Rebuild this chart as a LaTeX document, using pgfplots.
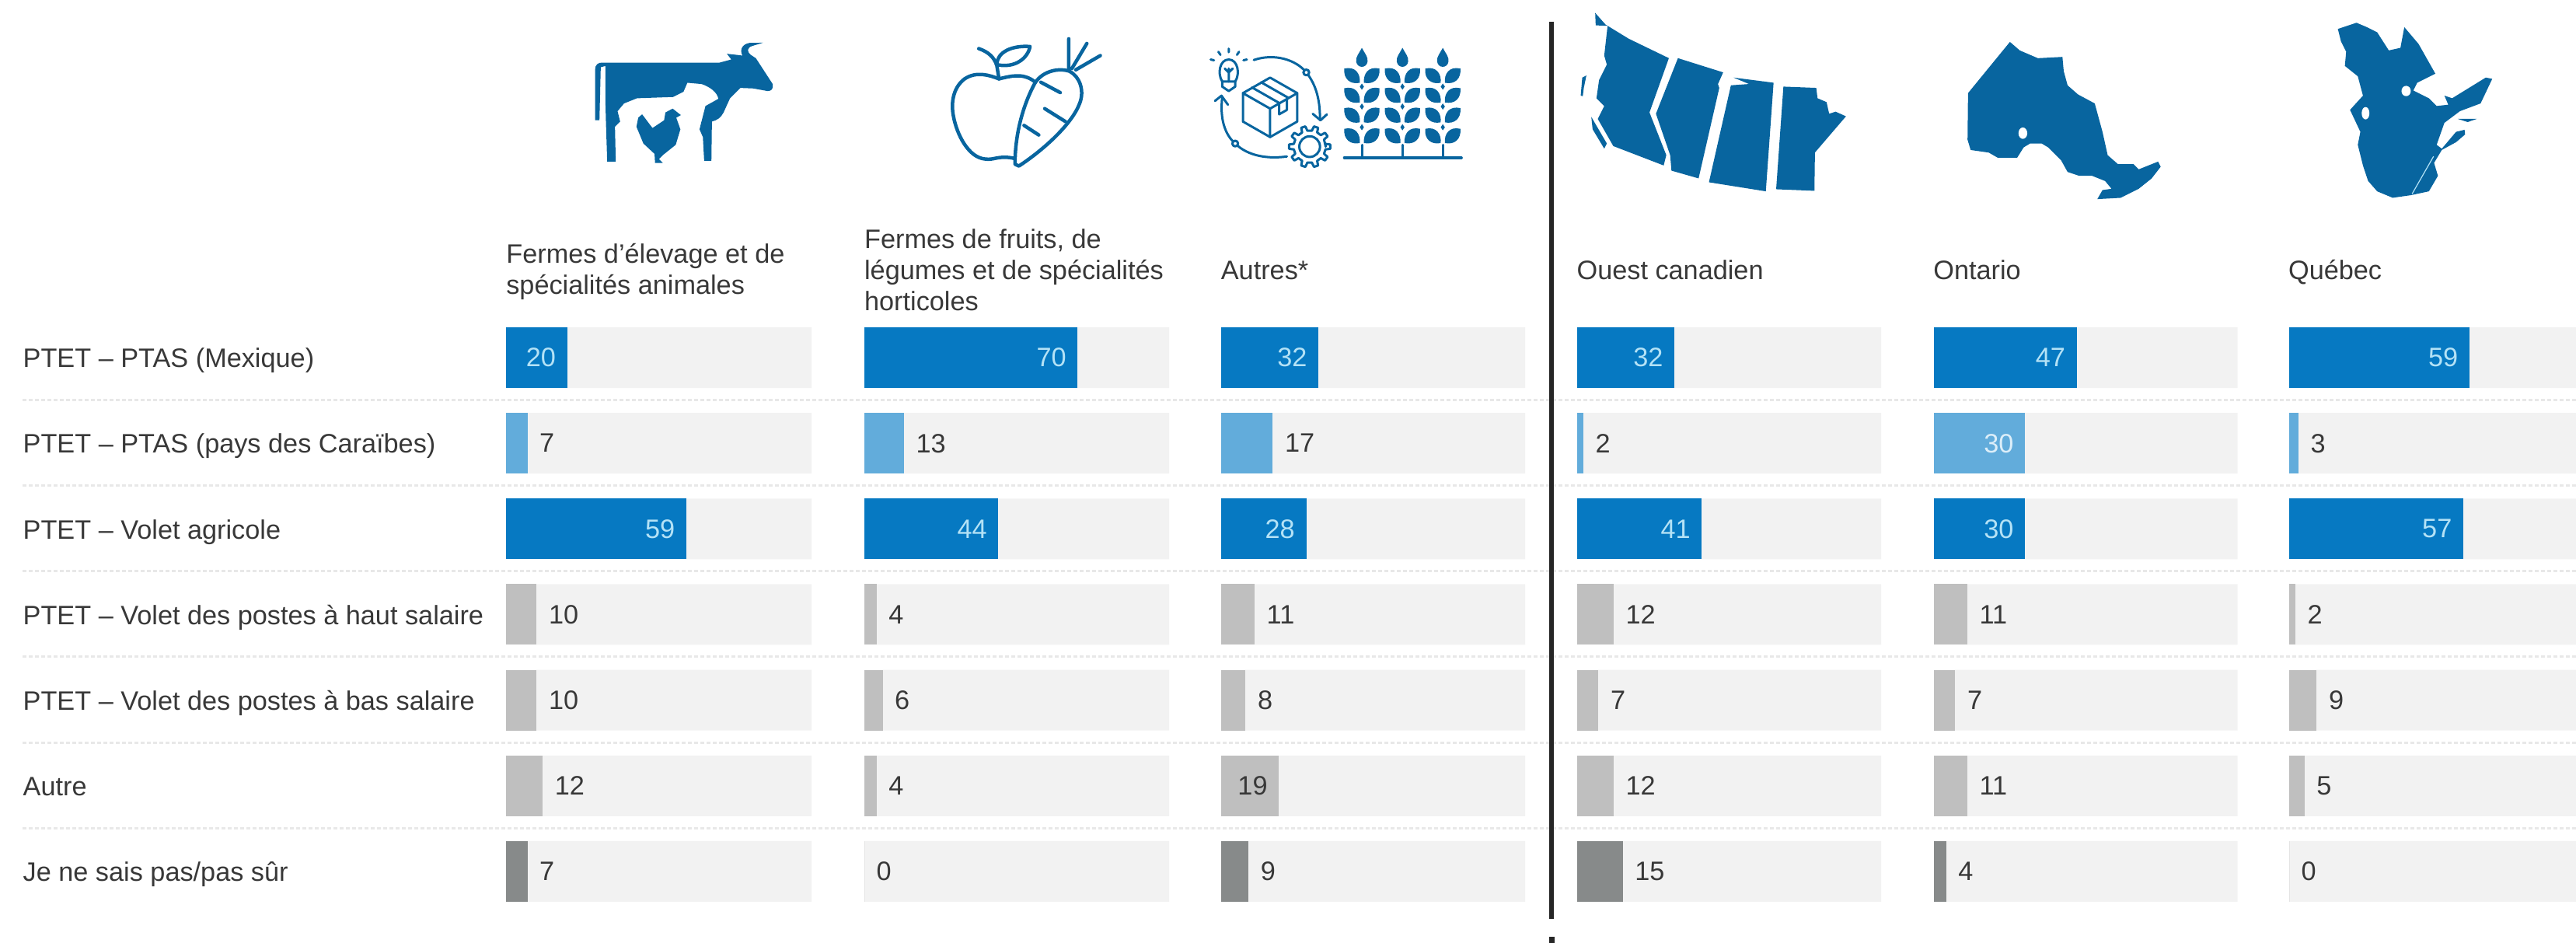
\documentclass[border=0pt]{standalone}
\usepackage{pgfplots}
\pgfplotsset{compat=1.18}
\usepackage{fontspec}
\setmainfont{Liberation Sans}

\definecolor{bardark}{HTML}{0679C2}
\definecolor{barlight}{HTML}{62ACDB}
\definecolor{bargrey}{HTML}{BFBFBF}
\definecolor{barslate}{HTML}{878A8A}
\definecolor{track}{HTML}{F2F2F2}
\definecolor{ink}{HTML}{383838}
\definecolor{icon}{HTML}{08659F}
\definecolor{paleblue}{HTML}{B4E2F6}
\definecolor{palewhite}{HTML}{DCEEF9}
\definecolor{rule}{HTML}{E8E8E8}

\newcommand{\labelfont}{\fontsize{9.75}{11}\selectfont}

% a line of text, positioned in 0.1 mm units from the top left corner
\newcommand{\txt}[3]{\node[anchor=base west,inner sep=0pt,font=\labelfont,text=ink] at ({#1*0.01},{12.13-#2*0.01}) {#3};}

% one bar with its value, set inside the bar from 19 upwards
\newcommand{\onebar}[4]{%
  \ifnum#2>18
    \addplot[fill=#3,draw=none,forget plot,nodes near coords,
      every node near coord/.style={inner sep=0pt,anchor=east,xshift=-0.14cm,font=\labelfont,text=#4}]
      coordinates {(#2,#1)};
  \else
    \addplot[fill=#3,draw=none,forget plot,nodes near coords,
      every node near coord/.style={inner sep=0pt,anchor=west,xshift=0.15cm,font=\labelfont,text=ink}]
      coordinates {(#2,#1)};
  \fi}

\def\panelrows#1,#2,#3,#4,#5,#6,#7\relax{%
  \onebar{0}{#1}{bardark}{paleblue}%
  \onebar{1}{#2}{barlight}{palewhite}%
  \onebar{2}{#3}{bardark}{paleblue}%
  \onebar{3}{#4}{bargrey}{ink}%
  \onebar{4}{#5}{bargrey}{ink}%
  \onebar{5}{#6}{bargrey}{ink}%
  \onebar{6}{#7}{barslate}{ink}}

% left edge, width of the drawn axis, last value shown, seven values
\newcommand{\panel}[4]{%
  \begin{axis}[
    at={(#1cm,8.08cm)},anchor=north west,scale only axis,
    width=#2cm,height=7.71cm,hide axis,
    xmin=0,xmax=#3,ymin=-0.5,ymax=6.5,y dir=reverse,
    xbar=0pt,/pgf/bar shift=0pt,bar width=0.78cm,
    point meta=x,/pgf/number format/assume math mode=true]
    \addplot[fill=track,draw=none,forget plot]
      coordinates {(100,0) (100,1) (100,2) (100,3) (100,4) (100,5) (100,6)};
    \panelrows#4\relax
  \end{axis}}

\begin{document}
\begin{tikzpicture}[
  zoomed/.style 2 args={shift={({#1*0.01},{12.13-#2*0.01})},x=0.0033333cm,y=-0.0033333cm}]
\path[use as bounding box] (0,0) rectangle (33.14,12.13);

% dotted separators between the rows
\foreach \y in {515,625,735,845,956,1066}
  \draw[rule,line width=0.025cm,dash pattern=on 0.05cm off 0.03cm] (0.29,{12.13-\y*0.01}) -- (33.14,{12.13-\y*0.01});

% bars by farm type, then by region
\panel{6.51}{3.93}{100}{20,7,59,10,10,12,7}
\panel{11.12}{3.92}{100}{70,13,44,4,6,4,0}
\panel{15.71}{3.91}{100}{32,17,28,11,8,19,9}
\panel{20.29}{3.91}{100}{32,2,41,12,7,12,15}
\panel{24.88}{3.905}{100}{47,30,30,11,7,11,4}
\panel{29.45}{3.69}{93.9}{59,3,57,2,9,5,0}

% row names
\txt{29}{473}{PTET – PTAS (Mexique)}
\txt{29}{583}{PTET – PTAS (pays des Caraïbes)}
\txt{29}{694}{PTET – Volet agricole}
\txt{29}{804}{PTET – Volet des postes à haut salaire}
\txt{29}{914}{PTET – Volet des postes à bas salaire}
\txt{29}{1024}{Autre}
\txt{29}{1134}{Je ne sais pas/pas sûr}

% column names
\txt{651}{339}{Fermes d’élevage et de}
\txt{651}{379}{spécialités animales}
\txt{1112}{320}{Fermes de fruits, de}
\txt{1112}{360}{légumes et de spécialités}
\txt{1112}{400}{horticoles}
\txt{1571}{360}{Autres*}
\txt{2029}{360}{Ouest canadien}
\txt{2488}{360}{Ontario}
\txt{2945}{360}{Québec}

% divider between the two groups of columns
\draw[black!85,line width=0.055cm] (19.96,{12.13-0.28}) -- (19.96,{12.13-11.82});
\draw[black!85,line width=0.07cm] (19.96,{12.13-12.05}) -- (19.96,0);

% cow and hen
\begin{scope}[zoomed={740}{30}]
\fill[icon] (78,375) -- (78,180) .. controls (78,160) and (90,152) .. (105,152) -- (560,152) -- (605,140)
  -- (588,118) -- (625,122) -- (648,125) .. controls (635,100) and (650,80) .. (675,76) -- (728,75)
  -- (685,88) .. controls (665,95) and (665,110) .. (680,122) -- (700,135) -- (765,235)
  .. controls (768,255) and (760,262) .. (745,262) -- (690,252) -- (640,250) -- (600,290)
  -- (575,345) .. controls (565,365) and (550,375) .. (530,380) -- (528,532) -- (500,532) -- (495,440)
  -- (482,410) -- (505,320) -- (555,292) .. controls (550,265) and (520,245) .. (490,235) -- (435,230)
  -- (420,265) -- (380,285) -- (240,290) -- (190,310) -- (165,340) -- (175,380) -- (155,400)
  -- (158,535) -- (125,535) -- (120,380) -- (118,300) -- (118,165) -- (100,170) -- (95,375) -- cycle;
\fill[icon] (260,352) -- (300,405) -- (345,375) -- (350,345) -- (378,330) -- (410,355) -- (392,365)
  -- (408,410) -- (390,470) -- (340,510) -- (325,525) -- (340,540) -- (310,540) -- (308,505)
  -- (265,465) -- (238,400) -- (245,365) -- cycle;
\end{scope}

% apple and carrot
\begin{scope}[zoomed={1200}{30},draw=icon,line width=0.045cm,line cap=round,line join=round]
\draw (395,225) .. controls (350,190) and (300,205) .. (258,215) .. controls (220,200) and (170,185) .. (125,215)
  .. controls (85,245) and (70,300) .. (82,360) .. controls (95,430) and (140,520) .. (205,525)
  .. controls (240,530) and (255,510) .. (315,522);
\draw (258,215) -- (250,165) .. controls (240,130) and (215,110) .. (180,98);
\draw (250,160) .. controls (250,110) and (310,85) .. (378,90) .. controls (370,135) and (320,175) .. (250,160) -- cycle;
\draw (320,545) .. controls (320,430) and (350,320) .. (395,235) .. controls (420,190) and (480,170) .. (530,185)
  .. controls (570,205) and (590,260) .. (570,310) .. controls (540,390) and (430,490) .. (335,552) -- cycle;
\draw (420,228) -- (495,268) (435,330) -- (515,380) (355,395) -- (412,432);
\draw (528,180) -- (528,60) (540,175) -- (598,78) (555,180) -- (650,125);
\end{scope}

% supply loop and wheat
\begin{scope}[zoomed={1540}{40},draw=icon,line width=0.03cm,line cap=round,line join=round]
\draw (180,240) -- (285,180) -- (390,240) -- (390,350) -- (285,410) -- (180,350) -- cycle;
\draw (180,240) -- (285,300) -- (390,240) (285,300) -- (285,410);
\draw (215,218) -- (320,278) (250,198) -- (355,258) (320,278) -- (320,322) -- (350,305) -- (350,262);
\draw (222,112) .. controls (300,85) and (385,110) .. (425,160) .. controls (465,210) and (478,270) .. (478,340);
\draw (450,320) -- (480,345) -- (505,322);
\draw (100,255) .. controls (90,340) and (110,400) .. (150,435) .. controls (200,485) and (280,495) .. (350,485);
\draw (72,270) -- (97,250) -- (122,285);
\filldraw[fill=white] (425,160) circle (11) (150,435) circle (11);
\draw (100,195) .. controls (80,165) and (90,110) .. (125,110) .. controls (160,110) and (170,165) .. (150,195) -- cycle;
\draw (100,195) -- (100,215) -- (125,232) -- (150,215) -- (150,195) (125,195) -- (125,145) (110,145) -- (125,160) -- (140,145);
\draw (125,68) -- (125,82) (85,80) -- (93,92) (165,80) -- (157,92) (55,110) -- (68,113) (195,110) -- (182,113);
\begin{scope}[shift={(438,447)}]
\draw (0:62) \foreach \a in {0,36,...,324} {-- (\a-10:62) -- (\a-6:80) -- (\a+6:80) -- (\a+10:62)} -- cycle;
\draw (0,0) circle (40);
\end{scope}
\foreach \cx in {640,797,953} {
  \begin{scope}[shift={(\cx,0)}]
  \fill[icon] (0,65) .. controls (10,85) and (25,100) .. (22,118) .. controls (18,145) and (-18,145) .. (-22,118) .. controls (-25,100) and (-10,85) .. (0,65) -- cycle;
  \foreach \yy in {0,76,153,233} {
    \fill[icon] (-68,{145+\yy}) .. controls (-25,{135+\yy}) and (-5,{165+\yy}) .. (-8,{200+\yy}) .. controls (-45,{208+\yy}) and (-72,{185+\yy}) .. cycle;
    \fill[icon] (68,{145+\yy}) .. controls (25,{135+\yy}) and (5,{165+\yy}) .. (8,{200+\yy}) .. controls (45,{208+\yy}) and (72,{185+\yy}) .. cycle;
  }
  \fill[icon] (0,203) -- (8,215) -- (0,227) -- (-8,215) -- cycle;
  \fill[icon] (0,280) -- (8,292) -- (0,304) -- (-8,292) -- cycle;
  \fill[icon] (0,360) -- (8,372) -- (0,384) -- (-8,372) -- cycle;
  \draw (0,440) -- (0,490);
  \end{scope}
}
\draw[line width=0.035cm] (572,490) -- (1025,490);
\end{scope}

% western provinces
\begin{scope}[zoomed={2030}{0}]
\fill[icon] (70,50) -- (110,95) -- (200,150) -- (355,225) -- (280,435) -- (345,600) -- (335,640) -- (140,565)
  -- (80,460) -- (105,410) -- (75,380) -- (85,310) -- (115,250) -- (105,215) -- (118,100) -- (72,98) -- cycle;
\fill[icon] (55,452) -- (115,555) -- (105,575) -- (60,500) -- cycle;
\fill[icon] (20,300) -- (36,292) -- (26,340) -- (22,372) -- (14,370) -- cycle;
\fill[icon] (390,225) -- (565,280) -- (545,325) -- (550,340) -- (470,690) -- (365,660) -- (360,600) -- (305,440) -- cycle;
\fill[icon] (605,300) -- (760,320) -- (730,740) -- (510,705) -- (595,330) -- (665,325) -- cycle;
\fill[icon] (798,335) -- (925,340) -- (930,380) -- (965,395) -- (975,440) -- (1000,432) -- (1040,450)
  -- (920,590) -- (918,738) -- (770,732) -- cycle;
\end{scope}

% Ontario
\begin{scope}[zoomed={2480}{30}]
\fill[icon] (322,72) -- (360,105) -- (430,135) -- (525,130) -- (530,185) -- (545,240) -- (585,275) -- (650,310)
  -- (680,420) -- (700,510) -- (740,545) -- (800,545) -- (820,565) -- (895,535) -- (905,555) -- (870,600)
  -- (820,640) -- (750,675) -- (660,680) -- (680,645) -- (715,640) -- (690,610) -- (640,590) -- (590,590)
  -- (545,575) -- (520,530) -- (470,480) -- (445,465) -- (400,465) -- (375,480) -- (350,520) -- (275,520)
  -- (240,500) -- (170,490) -- (158,450) -- (160,270) -- cycle;
\fill[white] (372,425) ellipse (17 and 22);
\end{scope}

% Quebec
\begin{scope}[zoomed={2980}{10}]
\fill[icon] (88,82) -- (160,58) -- (200,75) -- (240,95) -- (285,165) -- (330,155) -- (345,75) -- (400,140)
  -- (465,255) -- (395,290) -- (380,320) -- (440,350) -- (470,380) -- (515,375) -- (500,340) -- (530,350)
  -- (660,270) -- (685,275) -- (640,370) -- (560,400) -- (500,445) -- (470,530) -- (490,545) -- (545,480)
  -- (578,472) -- (580,490) -- (545,520) -- (490,550) -- (460,600) -- (475,650) -- (440,710) -- (370,725)
  -- (300,735) -- (240,710) -- (205,670) -- (185,610) -- (165,530) -- (175,480) -- (135,395) -- (185,340)
  -- (165,265) -- (115,225) -- (120,170) -- (100,130) -- cycle;
\fill[white] (195,408) ellipse (15 and 24);
\fill[white] (352,322) ellipse (18 and 20);
\fill[icon] (552,430) -- (625,430) -- (590,442) -- cycle;
\draw[paleblue,line width=0.012cm] (458,575) -- (375,720);
\end{scope}
\end{tikzpicture}
\end{document}
